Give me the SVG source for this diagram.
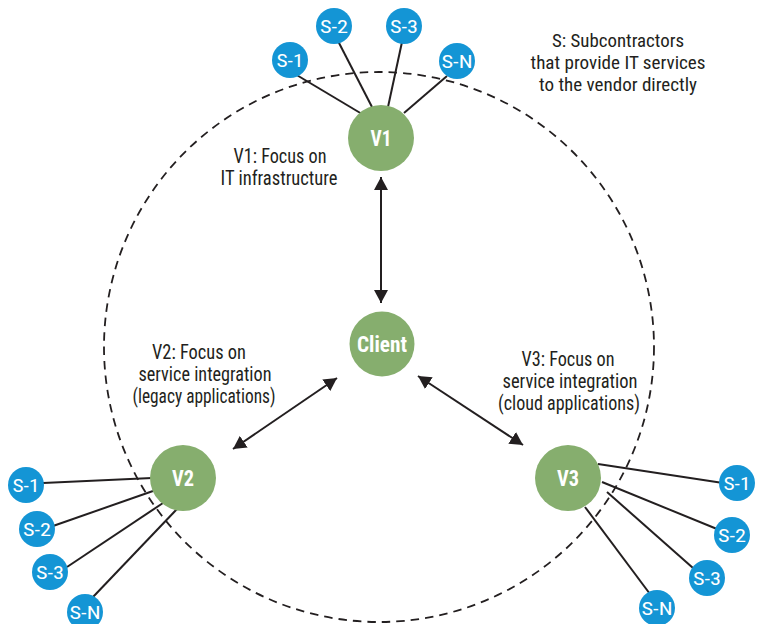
<svg xmlns="http://www.w3.org/2000/svg" width="762" height="624" viewBox="0 0 762 624">
  <defs>
    <style>
      .txt { font-family: "Liberation Sans Narrow", "Roboto Condensed", "Liberation Sans", sans-serif; fill: #231f20; font-size: 20px; text-anchor: middle; }
      .legend { font-size: 19px; }
      .vnode circle { fill: #86ae6e; }
      .snode circle { fill: #1495d5; }
      .vlabel { font-family: "Liberation Sans Narrow", "Roboto Condensed", "Liberation Sans", sans-serif; font-weight: bold; font-size: 22px; fill: #ffffff; text-anchor: middle; }
      .slabel { font-family: "Liberation Sans Narrow", "Roboto Condensed", "Liberation Sans", sans-serif; font-size: 19px; fill: #ffffff; text-anchor: middle; }
      .link { stroke: #231f20; stroke-width: 2; fill: none; }
      .arrow { stroke: #231f20; stroke-width: 2; fill: none; marker-start: url(#head); marker-end: url(#head); }
      .boundary { stroke: #231f20; stroke-width: 1.8; fill: none; stroke-dasharray: 8.5 6; }
    </style>
    <marker id="head" markerUnits="userSpaceOnUse" markerWidth="14" markerHeight="14" refX="13" refY="7" orient="auto-start-reverse">
      <path d="M0,0 L13,7 L0,14 z" fill="#231f20"/>
    </marker>
  </defs>

  <!-- vendor boundary -->
  <circle class="boundary" cx="379" cy="347" r="275"/>

  <!-- connectors -->
  <g id="connectors">
    <!-- V1 subcontractors -->
    <line class="link" x1="295" y1="74" x2="362" y2="114"/>
    <line class="link" x1="338" y1="41" x2="372" y2="107"/>
    <line class="link" x1="402" y1="42" x2="388" y2="107"/>
    <line class="link" x1="447" y1="76" x2="404" y2="113"/>
    <!-- V2 subcontractors -->
    <line class="link" x1="43" y1="483" x2="152" y2="478"/>
    <line class="link" x1="53" y1="526" x2="153" y2="491"/>
    <line class="link" x1="67" y1="567" x2="163" y2="503"/>
    <line class="link" x1="93" y1="597" x2="177" y2="509"/>
    <!-- V3 subcontractors -->
    <line class="link" x1="598" y1="464" x2="723" y2="483"/>
    <line class="link" x1="602" y1="482" x2="717" y2="529"/>
    <line class="link" x1="607" y1="492" x2="693" y2="568"/>
    <line class="link" x1="585" y1="507" x2="650" y2="594"/>
    <!-- vendor to client -->
    <line class="arrow" x1="381" y1="177" x2="381" y2="303"/>
    <line class="arrow" x1="233" y1="449" x2="337" y2="378"/>
    <line class="arrow" x1="418" y1="376" x2="523" y2="445"/>
  </g>

  <!-- vendors and client -->
  <g id="client" class="vnode">
    <circle cx="382" cy="344" r="32.5"/>
    <text class="vlabel" x="382" y="352" textLength="50" lengthAdjust="spacingAndGlyphs">Client</text>
  </g>
  <g id="v1" class="vnode">
    <circle cx="381" cy="138" r="33"/>
    <text class="vlabel" x="381" y="146" textLength="21" lengthAdjust="spacingAndGlyphs">V1</text>
  </g>
  <g id="v2" class="vnode">
    <circle cx="183" cy="478" r="33"/>
    <text class="vlabel" x="183" y="486" textLength="22" lengthAdjust="spacingAndGlyphs">V2</text>
  </g>
  <g id="v3" class="vnode">
    <circle cx="568" cy="478" r="33"/>
    <text class="vlabel" x="568" y="486" textLength="22" lengthAdjust="spacingAndGlyphs">V3</text>
  </g>

  <!-- subcontractors of V1 -->
  <g id="v1-s1" class="snode"><circle cx="290" cy="60" r="18"/><text class="slabel" x="290" y="67" textLength="27" lengthAdjust="spacingAndGlyphs">S-1</text></g>
  <g id="v1-s2" class="snode"><circle cx="334" cy="26" r="18"/><text class="slabel" x="334" y="33" textLength="28" lengthAdjust="spacingAndGlyphs">S-2</text></g>
  <g id="v1-s3" class="snode"><circle cx="404" cy="26" r="18"/><text class="slabel" x="404" y="33" textLength="28" lengthAdjust="spacingAndGlyphs">S-3</text></g>
  <g id="v1-sn" class="snode"><circle cx="457" cy="61" r="18"/><text class="slabel" x="457" y="68" textLength="31" lengthAdjust="spacingAndGlyphs">S-N</text></g>

  <!-- subcontractors of V2 -->
  <g id="v2-s1" class="snode"><circle cx="26" cy="485" r="18"/><text class="slabel" x="26" y="492" textLength="27" lengthAdjust="spacingAndGlyphs">S-1</text></g>
  <g id="v2-s2" class="snode"><circle cx="37" cy="529" r="18"/><text class="slabel" x="37" y="536" textLength="28" lengthAdjust="spacingAndGlyphs">S-2</text></g>
  <g id="v2-s3" class="snode"><circle cx="50" cy="572" r="18"/><text class="slabel" x="50" y="579" textLength="28" lengthAdjust="spacingAndGlyphs">S-3</text></g>
  <g id="v2-sn" class="snode"><circle cx="85" cy="612" r="18"/><text class="slabel" x="85" y="619" textLength="31" lengthAdjust="spacingAndGlyphs">S-N</text></g>

  <!-- subcontractors of V3 -->
  <g id="v3-s1" class="snode"><circle cx="737" cy="483" r="18"/><text class="slabel" x="737" y="490" textLength="27" lengthAdjust="spacingAndGlyphs">S-1</text></g>
  <g id="v3-s2" class="snode"><circle cx="732" cy="535" r="18"/><text class="slabel" x="732" y="542" textLength="28" lengthAdjust="spacingAndGlyphs">S-2</text></g>
  <g id="v3-s3" class="snode"><circle cx="707" cy="578" r="18"/><text class="slabel" x="707" y="585" textLength="28" lengthAdjust="spacingAndGlyphs">S-3</text></g>
  <g id="v3-sn" class="snode"><circle cx="657" cy="608" r="18"/><text class="slabel" x="657" y="615" textLength="31" lengthAdjust="spacingAndGlyphs">S-N</text></g>

  <!-- annotations -->
  <g id="legend">
    <text class="txt legend" x="618" y="47" textLength="132" lengthAdjust="spacingAndGlyphs">S: Subcontractors</text>
    <text class="txt legend" x="618" y="69" textLength="175" lengthAdjust="spacingAndGlyphs">that provide IT services</text>
    <text class="txt legend" x="618" y="91" textLength="158" lengthAdjust="spacingAndGlyphs">to the vendor directly</text>
  </g>
  <g id="v1-note">
    <text class="txt" x="280" y="163" textLength="93" lengthAdjust="spacingAndGlyphs">V1: Focus on</text>
    <text class="txt" x="279" y="185" textLength="117" lengthAdjust="spacingAndGlyphs">IT infrastructure</text>
  </g>
  <g id="v2-note">
    <text class="txt" x="199" y="359" textLength="94" lengthAdjust="spacingAndGlyphs">V2: Focus on</text>
    <text class="txt" x="205" y="381" textLength="133" lengthAdjust="spacingAndGlyphs">service integration</text>
    <text class="txt" x="204" y="403" textLength="143" lengthAdjust="spacingAndGlyphs">(legacy applications)</text>
  </g>
  <g id="v3-note">
    <text class="txt" x="568" y="366" textLength="93" lengthAdjust="spacingAndGlyphs">V3: Focus on</text>
    <text class="txt" x="570" y="388" textLength="135" lengthAdjust="spacingAndGlyphs">service integration</text>
    <text class="txt" x="569" y="410" textLength="142" lengthAdjust="spacingAndGlyphs">(cloud applications)</text>
  </g>
</svg>
